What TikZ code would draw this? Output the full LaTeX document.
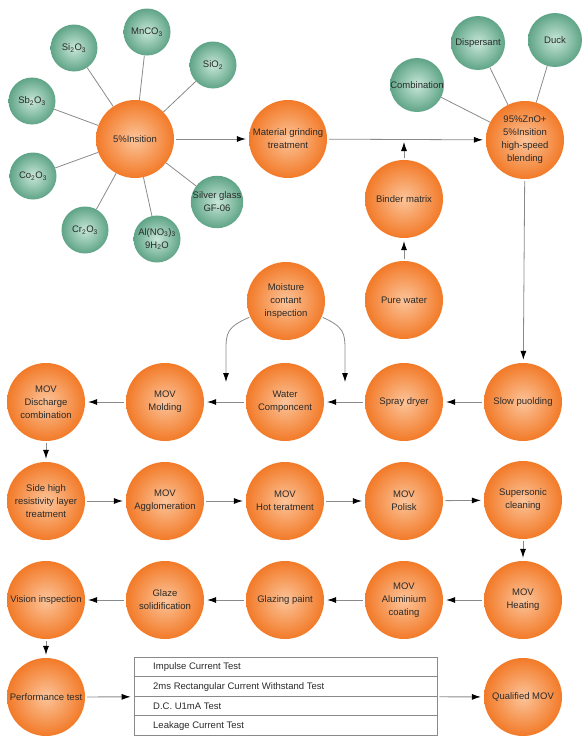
\documentclass[tikz,border=0pt]{standalone}
\usepackage{fontspec}
\setmainfont{Liberation Sans}
\usetikzlibrary{arrows.meta}
\definecolor{orE}{HTML}{F27A28}
\definecolor{orC}{HTML}{FCC49A}
\definecolor{grE}{HTML}{5FA487}
\definecolor{grC}{HTML}{C8E7D8}
\definecolor{lnC}{HTML}{8A8A8A}
\definecolor{txC}{HTML}{2A2A2A}
\begin{document}
\begin{tikzpicture}[x=1pt,y=-1pt,
 every node/.style={font=\fontsize{9.5}{13}\selectfont, text=txC, align=center},
 obox/.style={circle, minimum size=78pt, inner sep=0pt, inner color=orC, outer color=orE},
 gbox/.style={circle, minimum size=47pt, inner sep=0pt, inner color=grC, outer color=grE},
 gbig/.style={gbox, minimum size=54pt},
 link/.style={draw=lnC, line width=0.8pt},
 arr/.style={link, -{Latex[black,length=9pt,width=6pt]}, shorten >=3pt, shorten <=2pt},
 tline/.style={draw=lnC, line width=0.8pt},
 ttext/.style={anchor=west, inner sep=0pt},
]
\useasboundingbox (0,0) rectangle (582,736);

% top cluster
\node[obox] (ins) at (135,139) {5\%Insition};
\node[gbox] (g1) at (74,48) {Si\textsubscript{2}O\textsubscript{3}};
\node[gbox] (g2) at (147,32) {MnCO\textsubscript{3}};
\node[gbox] (g3) at (213,65) {SiO\textsubscript{2}};
\node[gbox] (g4) at (32,101) {Sb\textsubscript{2}O\textsubscript{3}};
\node[gbox] (g5) at (33,176) {Co\textsubscript{2}O\textsubscript{3}};
\node[gbox] (g6) at (85,230) {Cr\textsubscript{2}O\textsubscript{3}};
\node[gbox] (g7) at (157,239) {Al(NO\textsubscript{3})\textsubscript{3}\\9H\textsubscript{2}O};
\node[gbox] (g8) at (217,202) {Silver glass\\GF-06};
\foreach \g in {g1,g2,g3,g4,g5,g6,g7,g8} \draw[link] (\g) -- (ins);

\node[obox] (mat) at (288,139) {Material grinding\\treatment};
\node[obox] (zno) at (525,140) {95\%ZnO+\\5\%Insition\\high-speed\\blending};
\node[gbig] (comb) at (417,85) {Combination};
\node[gbig] (disp) at (478,43) {Dispersant};
\node[gbig] (duck) at (555,40) {Duck};
\foreach \g in {comb,disp,duck} \draw[link] (\g) -- (zno);

\node[obox] (bind) at (404,199) {Binder matrix};
\node[obox] (pure) at (404,300) {Pure water};
\node[obox] (moist) at (286,301) {Moisture\\contant\\inspection};

% row 2
\node[obox] (disc) at (46,402) {MOV\\Discharge\\combination};
\node[obox] (mold) at (165,402) {MOV\\Molding};
\node[obox] (water) at (285,402) {Water\\Componcent};
\node[obox] (spray) at (404,402) {Spray dryer};
\node[obox] (slow) at (523,402) {Slow puolding};
% row 3
\node[obox] (side) at (46,501) {Side high\\resistivity layer\\treatment};
\node[obox] (aggl) at (165,501) {MOV\\Agglomeration};
\node[obox] (hot) at (285,501) {MOV\\Hot teratment};
\node[obox] (pol) at (404,501) {MOV\\Polisk};
\node[obox] (sup) at (523,500) {Supersonic\\cleaning};
% row 4
\node[obox] (vis) at (46,600) {Vision inspection};
\node[obox] (glz) at (165,600) {Glaze\\solidification};
\node[obox] (gpt) at (285,600) {Glazing paint};
\node[obox] (alu) at (404,600) {MOV\\Aluminium\\coating};
\node[obox] (heat) at (523,600) {MOV\\Heating};
% row 5
\node[obox] (perf) at (46,697) {Performance test};
\node[obox] (qual) at (523,697) {Qualified MOV};

% table
\node[tline, rectangle, minimum width=303pt, minimum height=78pt, inner sep=0pt] (tbl) at (285.5,696.5) {};
\path (tbl.north west) ++(0,19.5) coordinate (r1) ++(0,19.5) coordinate (r2) ++(0,19.5) coordinate (r3);
\draw[tline] (r1) -- (r1 -| tbl.east);
\draw[tline] (r2) -- (r2 -| tbl.east);
\draw[tline] (r3) -- (r3 -| tbl.east);
\node[ttext] (t1) at (153,667.5) {Impulse Current Test};
\node[ttext] (t2) at (153,687) {2ms Rectangular Current Withstand Test};
\node[ttext] (t3) at (153,706.5) {D.C. U1mA Test};
\node[ttext] (t4) at (153,726) {Leakage Current Test};

% arrows
\draw[arr] (ins) -- (mat);
\draw[arr] (mat) -- (zno);
\coordinate (bj) at (404,142);
\draw[arr, shorten >=0pt] (bind) -- (bj);
\draw[arr] (pure) -- (bind);
\draw[arr] (zno) -- (slow);
\draw[arr] (slow) -- (spray);
\draw[arr] (spray) -- (water);
\draw[arr] (water) -- (mold);
\draw[arr] (mold) -- (disc);
\coordinate (mL) at (226,382);
\coordinate (mR) at (345,382);
\draw[arr, shorten <=1pt, shorten >=0pt] (moist.204) .. controls (227,327) and (226,333) .. (226,350) -- (mL);
\draw[arr, shorten <=1pt, shorten >=0pt] (moist.336) .. controls (344,327) and (345,333) .. (345,350) -- (mR);
\draw[arr] (disc) -- (side);
\draw[arr] (side) -- (aggl);
\draw[arr] (aggl) -- (hot);
\draw[arr] (hot) -- (pol);
\draw[arr] (pol) -- (sup);
\draw[arr] (sup) -- (heat);
\draw[arr] (heat) -- (alu);
\draw[arr] (alu) -- (gpt);
\draw[arr] (gpt) -- (glz);
\draw[arr] (glz) -- (vis);
\draw[arr] (vis) -- (perf);
\draw[arr] (perf) -- (tbl);
\draw[arr] (tbl) -- (qual);
\end{tikzpicture}
\end{document}
